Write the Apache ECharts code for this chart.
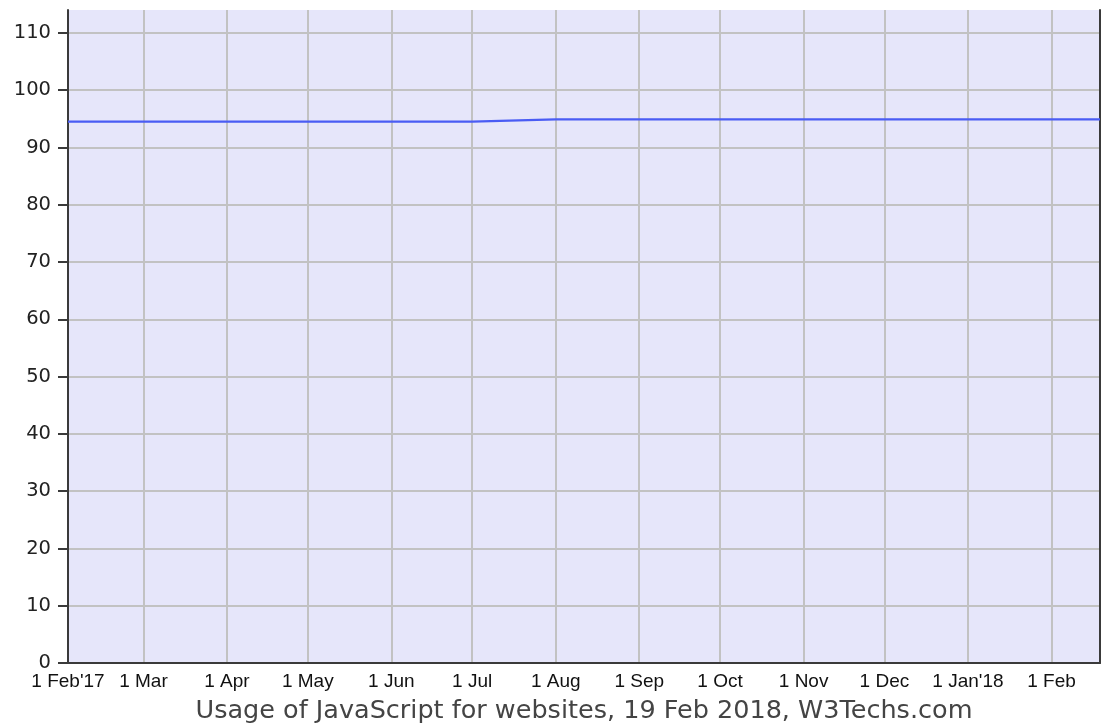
<!DOCTYPE html>
<html>
<head>
<meta charset="utf-8">
<script src="https://cdn.jsdelivr.net/npm/echarts@6/dist/echarts.min.js"></script>
<style>
html,body{margin:0;padding:0;background:#fff;}
#chart{width:1101px;height:727px;}
</style>
</head>
<body>
<div id="chart"></div>
<script>
// Data
var pointDates = ['2017-02-01','2017-03-01','2017-04-01','2017-05-01','2017-06-01','2017-07-01','2017-08-01','2017-09-01','2017-10-01','2017-11-01','2017-12-01','2018-01-01','2018-02-01','2018-02-19'];
var usageValues = [94.5, 94.5, 94.5, 94.5, 94.5, 94.5, 94.9, 94.9, 94.9, 94.9, 94.9, 94.9, 94.9, 94.9];
var tickDates = ['2017-02-01','2017-03-01','2017-04-01','2017-05-01','2017-06-01','2017-07-01','2017-08-01','2017-09-01','2017-10-01','2017-11-01','2017-12-01','2018-01-01','2018-02-01'];
var tickLabels = ["1 Feb'17","1 Mar","1 Apr","1 May","1 Jun","1 Jul","1 Aug","1 Sep","1 Oct","1 Nov","1 Dec","1 Jan'18","1 Feb"];
var startDate = '2017-02-01';
var endDate = '2018-02-19';
var chartTitle = 'Usage of JavaScript for websites, 19 Feb 2018, W3Techs.com';

// Daily category axis
function pad(n){return n<10?'0'+n:''+n;}
var days = [];
var d = new Date(startDate + 'T00:00:00Z');
var end = new Date(endDate + 'T00:00:00Z');
while (d <= end) {
  days.push(d.getUTCFullYear() + '-' + pad(d.getUTCMonth()+1) + '-' + pad(d.getUTCDate()));
  d = new Date(d.getTime() + 86400000);
}
var seriesData = pointDates.map(function(dt, i){ return [dt, usageValues[i]]; });
function isTick(idx, val){ return tickDates.indexOf(val) >= 0; }

var chart = echarts.init(document.getElementById('chart'), null, {renderer:'canvas'});
chart.setOption({
  animation: false,
  backgroundColor: '#ffffff',
  grid: {left: 68, right: 1, top: 10, bottom: 64, show: true, backgroundColor: '#e6e6fa', borderWidth: 0, containLabel: false, outerBoundsMode: 'none'},
  xAxis: {
    type: 'category',
    data: days,
    boundaryGap: false,
    axisLine: {show: true, onZero: false, lineStyle: {color: '#3a3a3a', width: 2}},
    axisTick: {show: false},
    axisLabel: {
      interval: isTick,
      margin: 9,
      fontFamily: 'Liberation Sans',
      fontSize: 19,
      color: '#111',
      formatter: function(v){ var i = tickDates.indexOf(v); return i >= 0 ? tickLabels[i] : ''; }
    },
    splitLine: {show: true, interval: isTick, lineStyle: {color: '#c2c2c2', width: 2}},
    name: chartTitle,
    nameLocation: 'middle',
    nameGap: 35,
    nameTextStyle: {fontFamily: 'DejaVu Sans', fontSize: 25.5, color: '#444', verticalAlign: 'top'}
  },
  yAxis: [{
    type: 'value',
    min: 0,
    max: 114,
    interval: 10,
    axisLine: {show: true, lineStyle: {color: '#3a3a3a', width: 2}},
    axisTick: {show: true, length: 10, lineStyle: {color: '#3a3a3a', width: 2}},
    axisLabel: {
      margin: 17,
      fontFamily: 'DejaVu Sans',
      fontSize: 19.5,
      color: '#222',
      showMaxLabel: false,
      formatter: function(v){ return (v % 10 === 0) ? String(v) : ''; }
    },
    splitLine: {show: true, showMaxLine: false, lineStyle: {color: '#c2c2c2', width: 2}}
  }, {
    type: 'value',
    position: 'right',
    min: 0,
    max: 114,
    interval: 10,
    axisLine: {show: true, lineStyle: {color: '#3a3a3a', width: 2}},
    axisTick: {show: false},
    axisLabel: {show: false},
    splitLine: {show: false}
  }],
  series: [{
    type: 'line',
    data: seriesData,
    showSymbol: false,
    symbol: 'none',
    lineStyle: {color: '#4a5cf4', width: 2.2},
    z: 5
  }]
});
</script>
</body>
</html>
